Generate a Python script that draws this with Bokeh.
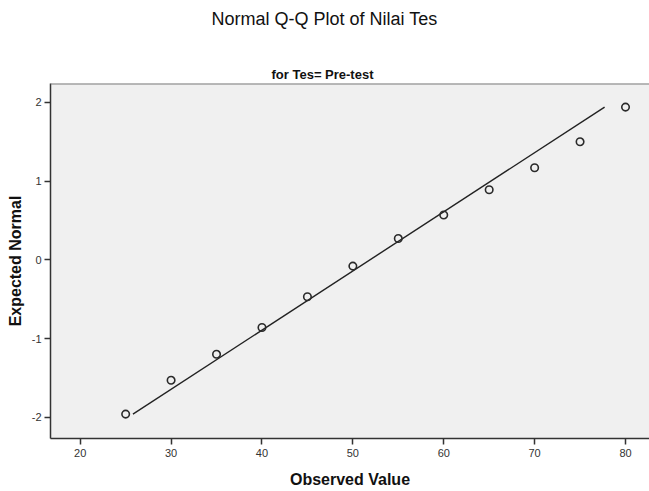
from bokeh.plotting import figure
from bokeh.models import Range1d, FixedTicker, Title, Span
from bokeh.embed import file_html
from bokeh.resources import INLINE

# ---- data ----
observed = [25, 30, 35, 40, 45, 50, 55, 60, 65, 70, 75, 80]
expected = [-1.96, -1.53, -1.20, -0.86, -0.47, -0.08, 0.27, 0.57, 0.89, 1.17, 1.50, 1.94]
line_x = [25.8, 77.7]
line_y = [-1.96, 1.94]
x_ticks = [20, 30, 40, 50, 60, 70, 80]
y_ticks = [-2, -1, 0, 1, 2]
title_text = "Normal Q-Q Plot of Nilai Tes"
subtitle_text = "for Tes= Pre-test"
x_label = "Observed Value"
y_label = "Expected Normal"

W, H = 649, 491
yr = Range1d(-2.27, 2.24)
p = figure(width=W, height=H, output_backend="svg", toolbar_location=None,
           x_range=Range1d(16.73, 82.64), y_range=yr,
           min_border_left=50, min_border_right=0, min_border_top=83, min_border_bottom=53)

p.background_fill_color = "#f0f0f0"
p.border_fill_color = "white"
p.outline_line_color = None
p.xgrid.visible = False
p.ygrid.visible = False

# top border of the plot area (the right one lies outside the picture)
p.add_layout(Span(location=yr.end, dimension="width", line_color="#7a7a7a", line_width=2))

for ax in (p.xaxis[0], p.yaxis[0]):
    ax.axis_line_color = "#333333"
    ax.axis_line_width = 1.5
    ax.major_tick_line_color = "#333333"
    ax.major_tick_line_width = 1.5
    ax.major_tick_in = 0
    ax.major_tick_out = 6
    ax.minor_tick_line_color = None
    ax.major_label_text_font = "Liberation Sans"
    ax.major_label_text_font_size = "11px"
    ax.major_label_text_color = "#333333"
    ax.axis_label_text_font = "Liberation Sans"
    ax.axis_label_text_font_size = "16px"
    ax.axis_label_text_font_style = "bold"
    ax.axis_label_text_color = "#111111"

p.xaxis.ticker = FixedTicker(ticks=x_ticks)
p.yaxis.ticker = FixedTicker(ticks=y_ticks)
p.xaxis.major_label_overrides = {t: str(t) for t in x_ticks}
p.yaxis.major_label_overrides = {t: str(t) for t in y_ticks}
p.xaxis.axis_label = x_label
p.yaxis.axis_label = y_label
p.xaxis.major_label_standoff = 4
p.xaxis.axis_label_standoff = 11
p.yaxis.major_label_standoff = 3
p.yaxis.axis_label_standoff = 5

p.line(line_x, line_y, line_color="#222222", line_width=1.4)
p.scatter(observed, expected, marker="circle", size=7.5, fill_color=None,
          line_color="#2a2a2a", line_width=1.6)

# main title (outermost); trailing blank lines lift it towards the top
p.title.text = title_text + "\n\n"
p.title.align = "left"
p.title.offset = 161
p.title.standoff = 0
p.title.text_line_height = 0.87
p.title.text_font = "Liberation Sans"
p.title.text_font_size = "18px"
p.title.text_font_style = "normal"
p.title.text_color = "#111111"

# subtitle (closest to the frame)
p.add_layout(Title(text=subtitle_text, align="left", offset=221, standoff=3,
                   text_font="Liberation Sans", text_font_size="13px",
                   text_font_style="bold", text_color="#111111"), "above")

open("out.html", "w").write(file_html(p, INLINE))
